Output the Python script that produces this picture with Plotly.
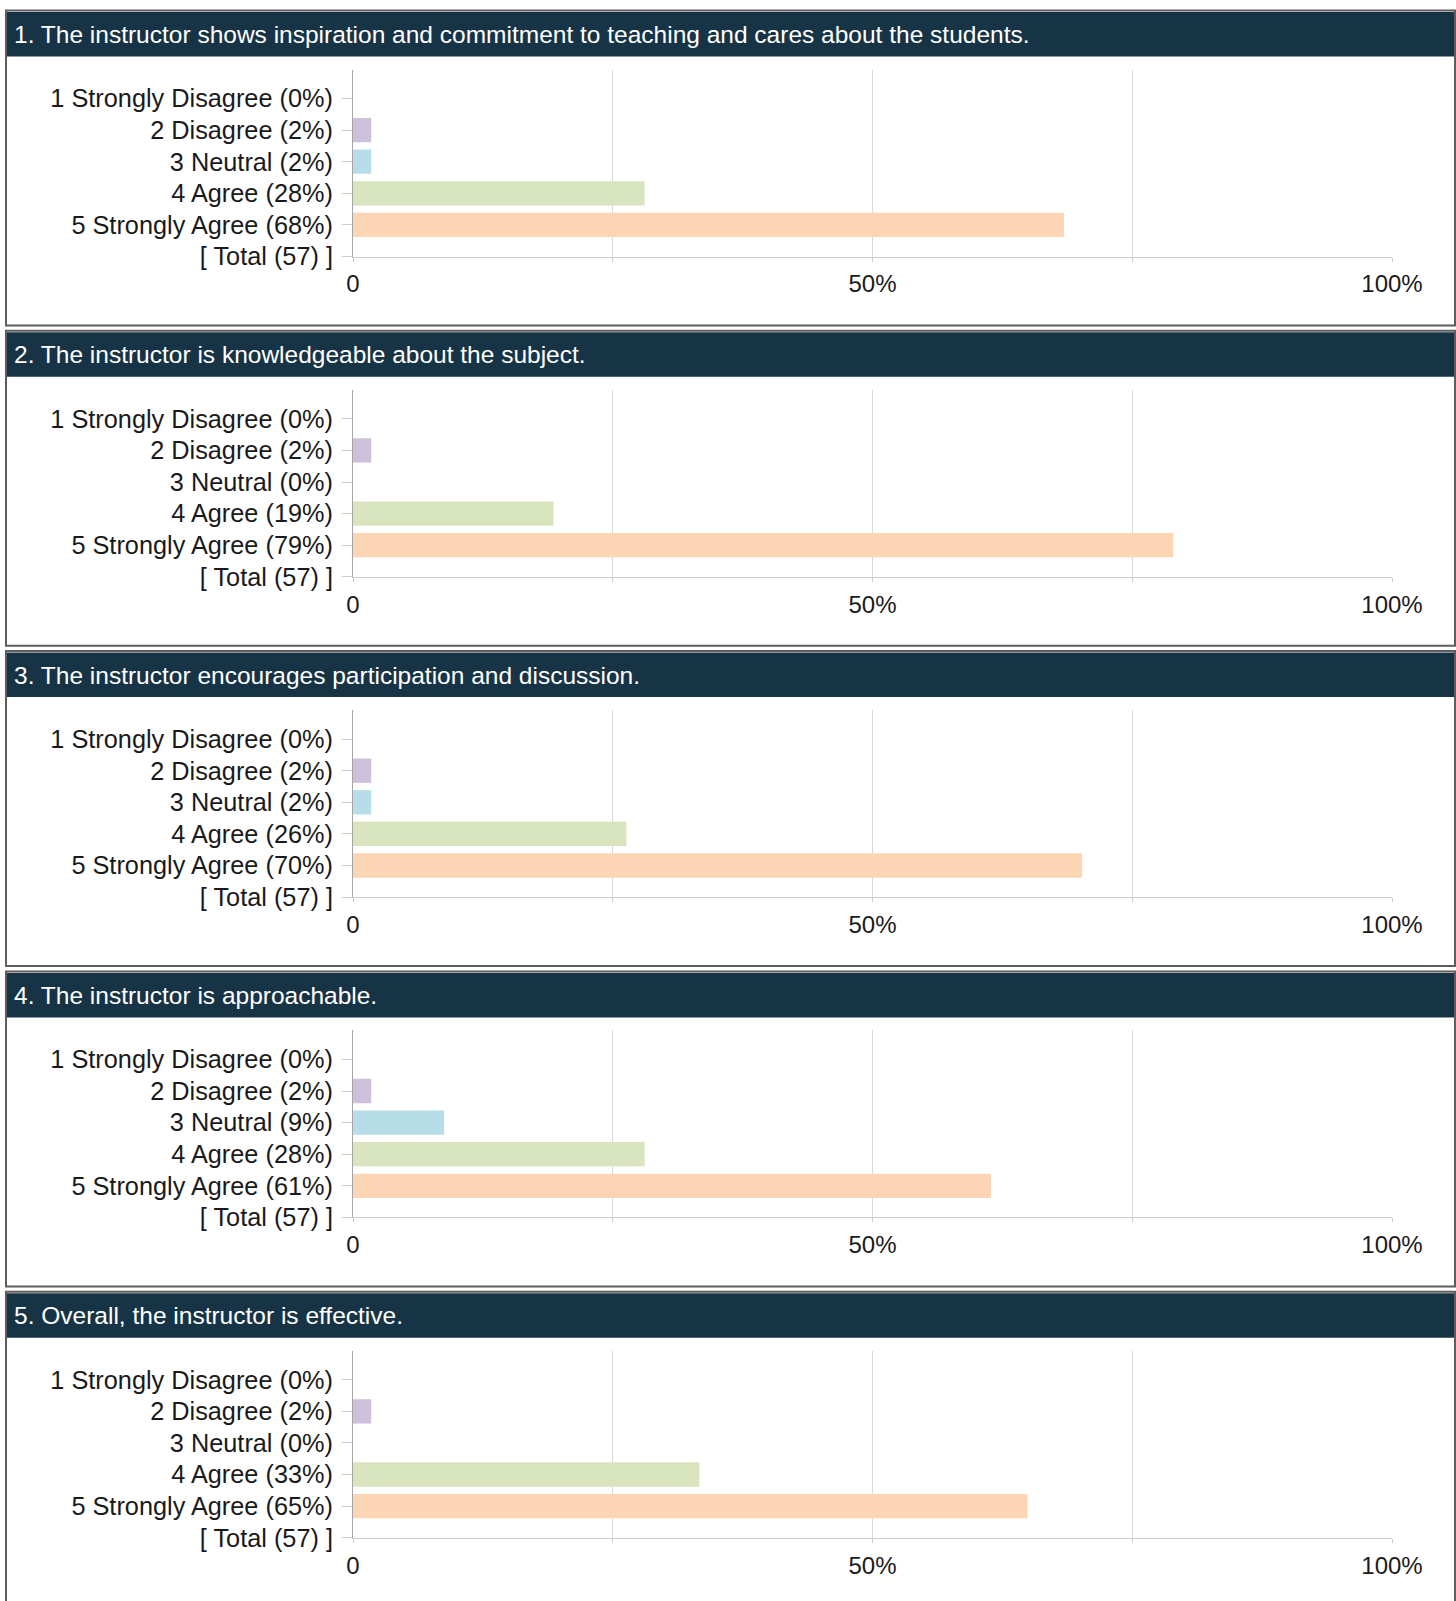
import plotly.graph_objects as go

# ---------------- data ----------------
questions = [
    "1. The instructor shows inspiration and commitment to teaching and cares about the students.",
    "2. The instructor is knowledgeable about the subject.",
    "3. The instructor encourages participation and discussion.",
    "4. The instructor is approachable.",
    "5. Overall, the instructor is effective.",
]
categories = ["1 Strongly Disagree", "2 Disagree", "3 Neutral", "4 Agree", "5 Strongly Agree"]
counts_q1 = [0, 1, 1, 16, 39]
counts_q2 = [0, 1, 0, 11, 45]
counts_q3 = [0, 1, 1, 15, 40]
counts_q4 = [0, 1, 5, 16, 35]
counts_q5 = [0, 1, 0, 19, 37]
all_counts = [counts_q1, counts_q2, counts_q3, counts_q4, counts_q5]
total_label = "[ Total ({}) ]"
bar_colors = ["#ccc0da", "#ccc0da", "#b7dee8", "#d7e4bd", "#fcd5b4"]
x_tickvals = [0, 25, 50, 75, 100]
x_ticktext = ["0", "", "50%", "", "100%"]

# ---------------- layout helpers ----------------
W, H = 1456, 1601
FONT = "Arial, 'Liberation Sans', sans-serif"


def px_x(x):
    return x / W


def px_y(y):
    return 1 - y / H


fig = go.Figure()
shapes = []
annotations = []
layout_axes = {}

for i, (q, counts) in enumerate(zip(questions, all_counts)):
    P = 10.5 + i * 320.3
    total = sum(counts)
    labels = [f"{c} ({round(n / total * 100)}%)" for c, n in zip(categories, counts)]
    labels.append(total_label.format(total))
    values = [n / total * 100 for n in counts] + [None]
    colors = bar_colors + ["#ffffff"]

    xa = "x" if i == 0 else f"x{i + 1}"
    ya = "y" if i == 0 else f"y{i + 1}"
    xkey = "xaxis" if i == 0 else f"xaxis{i + 1}"
    ykey = "yaxis" if i == 0 else f"yaxis{i + 1}"

    fig.add_trace(go.Bar(
        x=values, y=labels, orientation="h",
        marker=dict(color=colors, line=dict(width=0)),
        width=0.77, xaxis=xa, yaxis=ya, showlegend=False,
        hoverinfo="x+y",
    ))

    layout_axes[xkey] = dict(
        domain=[px_x(353), px_x(1392)],
        anchor=ya, range=[0, 100],
        tickvals=x_tickvals, ticktext=x_ticktext,
        showgrid=True, gridcolor="#d9d9d9", gridwidth=1,
        zeroline=False, showline=True, linecolor="#cccccc", linewidth=1,
        ticks="outside", ticklen=4, tickcolor="#cccccc",
        tickfont=dict(family=FONT, size=24, color="#1a1a1a"),
        ticklabelstandoff=2, fixedrange=True, automargin=False,
    )
    layout_axes[ykey] = dict(
        domain=[px_y(P + 246), px_y(P + 59)],
        anchor=xa, type="category",
        categoryorder="array", categoryarray=labels,
        range=[5, 5 - (246 - 59) / 31.6],
        showgrid=False, zeroline=False,
        showline=True, linecolor="#a6a6a6", linewidth=1,
        ticks="outside", ticklen=10, tickcolor="#cccccc",
        tickfont=dict(family=FONT, size=25.3, color="#1a1a1a"),
        ticklabelstandoff=4, fixedrange=True, automargin=False,
    )

    # panel border
    shapes.append(dict(type="rect", xref="paper", yref="paper",
                       x0=px_x(6), x1=px_x(1455), y0=px_y(P + 315), y1=px_y(P),
                       line=dict(color="#615b5b", width=2), fillcolor="rgba(0,0,0,0)",
                       layer="below"))
    # header band
    shapes.append(dict(type="rect", xref="paper", yref="paper",
                       x0=px_x(7), x1=px_x(1454), y0=px_y(P + 46), y1=px_y(P + 1.5),
                       line=dict(width=0), fillcolor="#173446", layer="below"))
    annotations.append(dict(text=q, xref="paper", yref="paper",
                            x=px_x(12), y=px_y(P + 24), xanchor="left", yanchor="middle",
                            showarrow=False,
                            font=dict(family=FONT, size=24.5, color="#ffffff")))

fig.update_layout(
    width=W, height=H, autosize=False,
    margin=dict(l=0, r=0, t=0, b=0, pad=0, autoexpand=False),
    paper_bgcolor="#ffffff", plot_bgcolor="#ffffff",
    shapes=shapes, annotations=annotations,
    bargap=0.23,
    **layout_axes,
)

fig.write_html(
    "out.html",
    config={"displayModeBar": False, "responsive": False},
    post_script=(
        "document.body.style.margin='0';"
        "document.body.style.overflow='hidden';"
        "document.documentElement.style.overflow='hidden';"
    ),
)
